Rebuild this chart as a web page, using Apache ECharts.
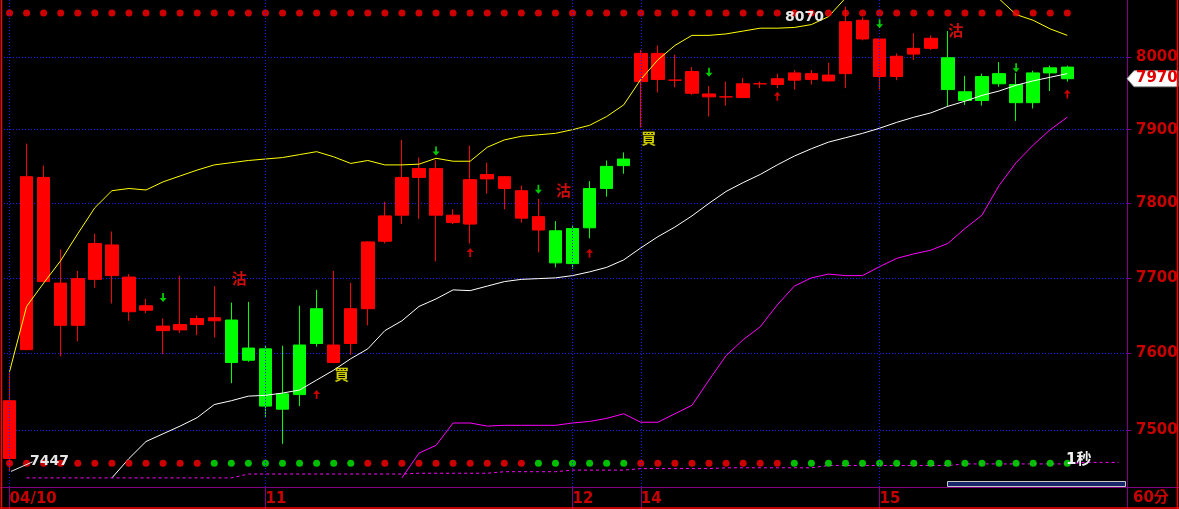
<!DOCTYPE html>
<html><head><meta charset="utf-8">
<script src="https://cdn.jsdelivr.net/npm/echarts@6/dist/echarts.min.js"></script>
<style>html,body{margin:0;padding:0;background:#000;overflow:hidden}#c{width:1179px;height:509px}</style>
</head><body><div id="c"></div>
<script>
// ---------- DATA ----------
const dayLabels = {0:'04/10', 15:'11', 33:'12', 37:'14', 51:'15'};
const slotCount = 66;
const opens  = [7463,7605,7695,7637,7637,7698,7703,7655,7657,7630,7631,7638,7643,7644,7607,7606,7547,7611,7659,7588,7613,7659,7749,7784,7835,7784,7774,7772,7833,7820,7780,7764,7763,7766,7820,7850,7860,7966,7969,7968,7950,7945,7945,7944,7963,7962,7968,7969,7967,7977,8025,7973,7973,8004,8012,7999,7952,7973,7977,7962,7978,7985,7986];
const closes = [7538,7836,7835,7693,7699,7746,7744,7701,7663,7636,7638,7646,7647,7588,7591,7531,7527,7546,7613,7611,7659,7748,7783,7835,7847,7847,7784,7832,7839,7836,7817,7782,7720,7719,7767,7820,7851,8005,8005,7968,7980,7949,7945,7963,7963,7970,7978,7977,7975,8049,8051,8025,8001,8012,8026,7955,7940,7940,7963,7937,7937,7978,7970];
const lows   = [7447,7604,7694,7596,7616,7687,7666,7643,7653,7599,7627,7624,7621,7561,7589,7517,7482,7531,7609,7587,7598,7637,7746,7772,7779,7722,7772,7746,7813,7792,7774,7734,7714,7712,7753,7809,7840,7903,7951,7958,7948,7918,7933,7944,7957,7957,7955,7962,7966,7957,8023,7955,7968,7996,8010,7932,7934,7933,7959,7912,7929,7953,7966];
const highs  = [7575,7881,7851,7738,7709,7759,7762,7705,7672,7646,7703,7650,7689,7667,7668,7610,7610,7663,7684,7709,7693,7749,7802,7886,7862,7858,7792,7878,7855,7837,7824,7806,7776,7771,7830,7858,7869,8010,8016,8003,7986,7960,7966,7971,7966,7977,7982,7982,7992,8070,8055,8025,8005,8033,8030,8036,7974,7977,7993,7978,7981,7988,7988];
const upperBand = [7576,7662,7693,7723,7759,7794,7817,7820,7818,7829,7837,7845,7852,7855,7858,7860,7862,7866,7870,7863,7854,7858,7852,7852,7853,7861,7857,7857,7876,7886,7891,7893,7895,7900,7906,7918,7934,7969,7996,8016,8030,8030,8032,8036,8040,8040,8041,8045,8056,8082,8098,8107,8113,8117,8118,8116,8110,8098,8081,8059,8051,8039,8030];
const midLine = [null,null,null,null,null,null,7438,7463,7485,7495,7505,7516,7533,7538,7544,7545,7548,7552,7565,7578,7593,7606,7630,7643,7662,7672,7684,7683,7689,7695,7698,7699,7700,7703,7708,7714,7724,7740,7755,7768,7783,7800,7816,7828,7839,7852,7864,7874,7883,7889,7895,7902,7910,7917,7923,7932,7939,7947,7953,7961,7967,7972,7977];
const lowerBand = [null,null,null,null,null,null,null,null,null,null,null,null,null,null,null,null,null,null,null,null,null,null,null,7438,7470,7480,7509,7509,7505,7506,7506,7506,7506,7509,7511,7515,7521,7510,7510,7521,7532,7565,7597,7618,7635,7664,7689,7700,7705,7703,7703,7715,7726,7732,7737,7746,7766,7784,7824,7855,7879,7900,7917];
const longLine = [null,7438,7438,7438,7438,7438,7438,7438,7438,7438,7438,7438,7438,7438,7443,7443,7443,7443,7443,7443,7443,7443,7443,7443,7444,7444,7444,7444,7444,7446,7446,7446,7446,7448,7448,7448,7448,7450,7450,7450,7450,7450,7451,7451,7451,7451,7451,7451,7454,7454,7454,7454,7454,7454,7454,7454,7456,7456,7456,7456,7456,7456,7456,7458,7458,7458];
const topDotLevel = 8061;
const bottomDotLevel = 7457;
const bottomDotState = 'RRRRRRRRRRRRGGGGGGGGGRRRRRRRRRRGGGGGGRRRRRRRRRGGGGGGGGGGGGGGGGG';
const downArrows = [[9,7674],[25,7871],[31,7819],[41,7979],[51,8046],[59,7985]];
const upArrows   = [[18,7546],[27,7734],[34,7733],[45,7946],[62,7949]];
const sellMarks  = [[13,7699],[32,7817],[55,8037]];
const buyMarks   = [[19,7572],[37,7888]];
const yTicks = [7500,7600,7700,7800,7900,8000];
const yMin = 7426.3, yMax = 8079.3;

// ---------- BUILD ----------
const RED='#ff0000', GREEN='#00ff00', PURPLE='#800080', AXRED='#c80000', GRIDBLUE='#1a1aff';
const N = opens.length;
const cats = Array.from({length: slotCount}, (_, i) => String(i));
const isBoundary = (i) => dayLabels[i] !== undefined;
const candleData = opens.map((o, i) => {
  const col = closes[i] >= o ? RED : GREEN;
  return {value: [o, closes[i], lows[i], highs[i]],
          itemStyle: {color: col, color0: col, borderColor: col, borderColor0: col}};
});
let hiIdx = 0, loIdx = 0;
highs.forEach((h, i) => { if (h > highs[hiIdx]) hiIdx = i; });
lows.forEach((l, i) => { if (l < lows[loIdx]) loIdx = i; });

const downPath = 'path://M3,0L5,0L5,5L8,5L4,9L0,5L3,5Z';
const upPath = 'path://M4,0L8,4L5,4L5,9L3,9L3,4L0,4Z';
const markLineStyle = {color: GRIDBLUE, type: [1, 2], width: 1};

const chart = echarts.init(document.getElementById('c'), null, {renderer: 'canvas'});
const textMark = (marks, ch, col) => ({
  type: 'scatter', z: 6, symbol: 'circle', symbolSize: 1, itemStyle: {color: 'rgba(0,0,0,0)'},
  label: {show: true, position: 'inside', offset: [8, 0], formatter: ch, color: col,
          fontFamily: 'Noto Sans CJK TC', fontWeight: 'bold', fontSize: 15},
  data: marks.map(d => [cats[d[0]], d[1]])
});
const option = {
  backgroundColor: '#000',
  animation: false,
  grid: {left: 1, right: 52, top: 0, bottom: 22, containLabel: false, outerBoundsMode: 'none'},
  xAxis: {
    type: 'category', data: cats, boundaryGap: true,
    axisLine: {show: true, lineStyle: {color: PURPLE, width: 1}},
    axisTick: {show: true, alignWithLabel: true, length: 22, interval: (i) => isBoundary(i), lineStyle: {color: PURPLE, width: 1}},
    axisLabel: {show: true, interval: (i) => isBoundary(i), formatter: (v, i) => dayLabels[i] || '',
                align: 'left', margin: 5, color: AXRED, fontFamily: 'DejaVu Sans', fontWeight: 'bold', fontSize: 15},
    splitLine: {show: false}
  },
  yAxis: {
    type: 'log', logBase: 10, min: yMin, max: yMax, position: 'right', scale: true,
    axisLine: {show: true, lineStyle: {color: PURPLE, width: 1}},
    axisTick: {show: true, customValues: yTicks, length: 4, lineStyle: {color: PURPLE}},
    axisLabel: {show: true, customValues: yTicks, margin: 9, color: AXRED, fontFamily: 'DejaVu Sans', fontWeight: 'bold', fontSize: 15,
                formatter: (v) => String(Math.round(v))},
    splitLine: {show: true, lineStyle: markLineStyle}
  },
  series: [
    {type: 'candlestick', data: candleData, barWidth: 13, z: 2,
     itemStyle: {borderWidth: 1},
     markLine: {silent: true, symbol: ['none', 'none'], label: {show: false}, lineStyle: markLineStyle,
                data: Object.keys(dayLabels).map(k => ({xAxis: cats[+k]}))},
     markPoint: {symbol: 'circle', symbolSize: 0, silent: true,
       label: {show: true, color: '#e6e6e6', fontFamily: 'DejaVu Sans', fontWeight: 'bold', fontSize: 14},
       data: [
         {coord: [cats[hiIdx], highs[hiIdx]], value: highs[hiIdx], label: {offset: [-41, 11], formatter: String(highs[hiIdx])}},
         {coord: [cats[loIdx], lows[loIdx]], value: lows[loIdx], label: {offset: [40, -10], formatter: String(lows[loIdx])}}
       ]}
    },
    {type: 'line', data: upperBand, symbol: 'none', z: 3, lineStyle: {color: '#ffff00', width: 1}},
    {type: 'line', data: midLine, symbol: 'none', z: 3, lineStyle: {color: '#ffffff', width: 1}},
    {type: 'line', data: lowerBand, symbol: 'none', z: 3, lineStyle: {color: '#ff00ff', width: 1}},
    {type: 'line', data: longLine, symbol: 'none', z: 3, lineStyle: {color: '#ff00ff', width: 1, type: [3, 3]}},
    {type: 'scatter', z: 4, symbol: 'circle', symbolSize: 7, itemStyle: {color: RED},
     data: opens.map((_, i) => [cats[i], topDotLevel])},
    {type: 'scatter', z: 4, symbol: 'circle', symbolSize: 7,
     data: bottomDotState.split('').map((s, i) => ({value: [cats[i], bottomDotLevel], itemStyle: {color: s === 'G' ? '#00ee00' : RED}}))},
    {type: 'scatter', z: 5, symbol: downPath, symbolSize: [7, 9], itemStyle: {color: '#00ff00'},
     data: downArrows.map(d => [cats[d[0]], d[1]])},
    {type: 'scatter', z: 5, symbol: upPath, symbolSize: [7, 9], itemStyle: {color: RED},
     data: upArrows.map(d => [cats[d[0]], d[1]])},
    textMark(sellMarks, '沽', '#ff1010'),
    textMark(buyMarks, '買', '#ffff00')
  ]
};
chart.setOption(option);

// decorations positioned through the chart's own scales
const lastClose = closes[N - 1];
const yTag = chart.convertToPixel({yAxisIndex: 0}, lastClose);
const lowPt = chart.convertToPixel({gridIndex: 0}, [cats[loIdx], lows[loIdx]]);
const axisX = 1127;
chart.setOption({graphic: [
  {type: 'line', shape: {x1: 1.5, y1: 0, x2: 1.5, y2: 509}, style: {stroke: RED, lineWidth: 1.5}, z: 50},
  {type: 'line', shape: {x1: 1177.5, y1: 0, x2: 1177.5, y2: 509}, style: {stroke: RED, lineWidth: 1.5}, z: 50},
  {type: 'line', shape: {x1: 0, y1: 508, x2: 1179, y2: 508}, style: {stroke: RED, lineWidth: 1.5}, z: 50},
  {type: 'line', shape: {x1: 0, y1: 487.5, x2: 1179, y2: 487.5}, style: {stroke: PURPLE, lineWidth: 1}, z: 40},
  {type: 'line', shape: {x1: axisX + 0.5, y1: 0, x2: axisX + 0.5, y2: 508}, style: {stroke: PURPLE, lineWidth: 1}, z: 40},
  {type: 'rect', shape: {x: 947.5, y: 481.5, width: 178, height: 5}, style: {fill: '#16286a', stroke: '#c8c8c8', lineWidth: 1}, z: 40},
  {type: 'text', left: 1133, top: 491, style: {text: '60分', fill: AXRED, font: 'bold 15px "DejaVu Sans", "Noto Sans CJK TC"'}, z: 40},
  {type: 'text', left: 1066, top: 453, style: {text: '1秒', fill: '#f0f0f0', font: 'bold 15px "DejaVu Sans", "Noto Sans CJK TC"'}, z: 40},
  {type: 'line', shape: {x1: lowPt[0] + 1.5, y1: lowPt[1] + 0.5, x2: lowPt[0] + 23, y2: lowPt[1] - 9}, style: {stroke: '#e6e6e6', lineWidth: 1}, z: 40},
  {type: 'polygon', shape: {points: [[axisX, yTag], [axisX + 7, yTag - 8], [1178, yTag - 8], [1178, yTag + 8], [axisX + 7, yTag + 8]]},
   style: {fill: '#ffffff', stroke: '#9a9a9a', lineWidth: 1}, z: 45},
  {type: 'text', left: 1136, top: yTag - 8, style: {text: String(lastClose), fill: '#e00000', font: 'bold 15px "DejaVu Sans"'}, z: 46}
]});
</script></body></html>
